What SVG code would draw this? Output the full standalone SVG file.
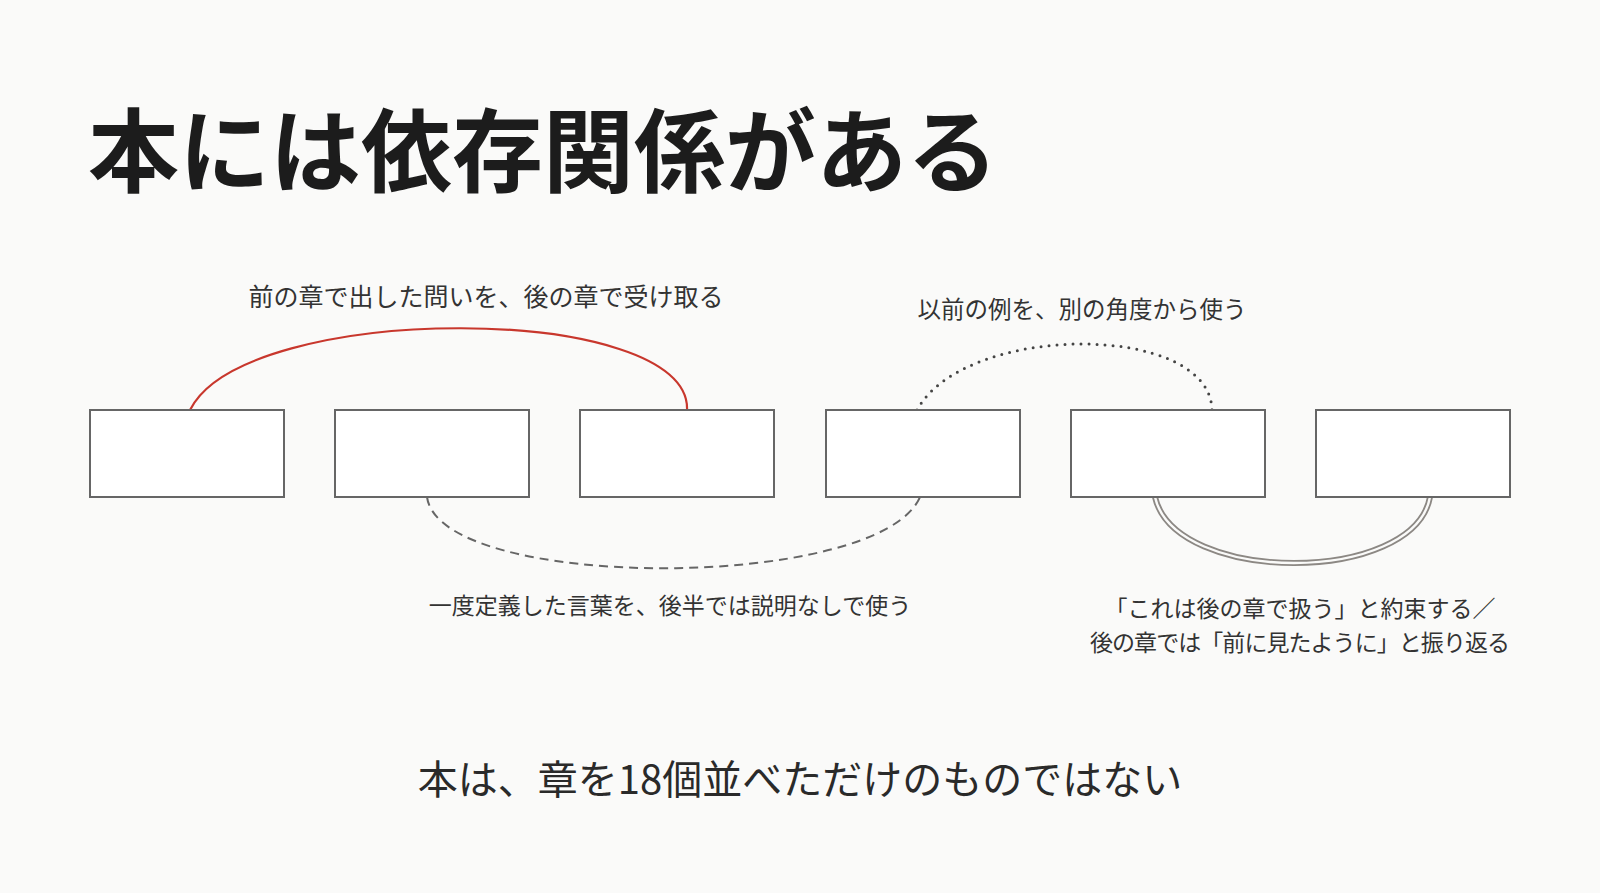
<svg xmlns="http://www.w3.org/2000/svg" width="1600" height="893" viewBox="0 0 1600 893">
<style>
.title{font-family:"Noto Sans CJK JP","Noto Sans CJK SC",sans-serif;font-weight:700;font-size:91px;fill:#1c1c1c}
.lbl{font-family:"Noto Sans CJK JP","Noto Sans CJK SC",sans-serif;font-size:23px;fill:#333;text-anchor:middle}
.big{font-family:"Noto Sans CJK JP","Noto Sans CJK SC",sans-serif;font-size:40px;fill:#2a2a2a;text-anchor:middle}
.box{fill:#fff;stroke:#666;stroke-width:2}
.arc{fill:none}
</style>
<rect x="0" y="0" width="1600" height="893" fill="#fafaf9"/>
<text class="title" x="88" y="185">本には依存関係がある</text>
<g id="connectors">
<path class="arc" d="M190 410 C245 300 692 302 687 410" stroke="#c8372d" stroke-width="2.2"/>
<path class="arc" d="M917 410 C965 322 1210 322 1212 410" stroke="#444" stroke-width="3" stroke-dasharray="0 8" stroke-linecap="round"/>
<path class="arc" d="M427 497 C440 592 879 592 920 497" stroke="#666" stroke-width="2" stroke-dasharray="9 6"/>
<path class="arc" d="M1155 497 C1175 585 1414 585 1430 497" stroke="#8c8884" stroke-width="6"/>
<path class="arc" d="M1155 497 C1175 585 1414 585 1430 497" stroke="#fafaf9" stroke-width="2.4"/>
</g>
<g id="n1"><rect class="box" x="90" y="410" width="194" height="87"/></g>
<g id="n2"><rect class="box" x="335" y="410" width="194" height="87"/></g>
<g id="n3"><rect class="box" x="580" y="410" width="194" height="87"/></g>
<g id="n4"><rect class="box" x="826" y="410" width="194" height="87"/></g>
<g id="n5"><rect class="box" x="1071" y="410" width="194" height="87"/></g>
<g id="n6"><rect class="box" x="1316" y="410" width="194" height="87"/></g>
<g id="labels">
<text class="lbl" x="486" y="306" style="font-size:25px">前の章で出した問いを、後の章で受け取る</text>
<text class="lbl" x="1082" y="318" style="font-size:23.5px">以前の例を、別の角度から使う</text>
<text class="lbl" x="670" y="614">一度定義した言葉を、後半では説明なしで使う</text>
<text class="lbl" x="1300" y="617">「これは後の章で扱う」と約束する／</text>
<text class="lbl" x="1300" y="651" textLength="420" lengthAdjust="spacing">後の章では「前に見たように」と振り返る</text>
<text class="big" x="800" y="794">本は、章を18個並べただけのものではない</text>
</g>
</svg>
